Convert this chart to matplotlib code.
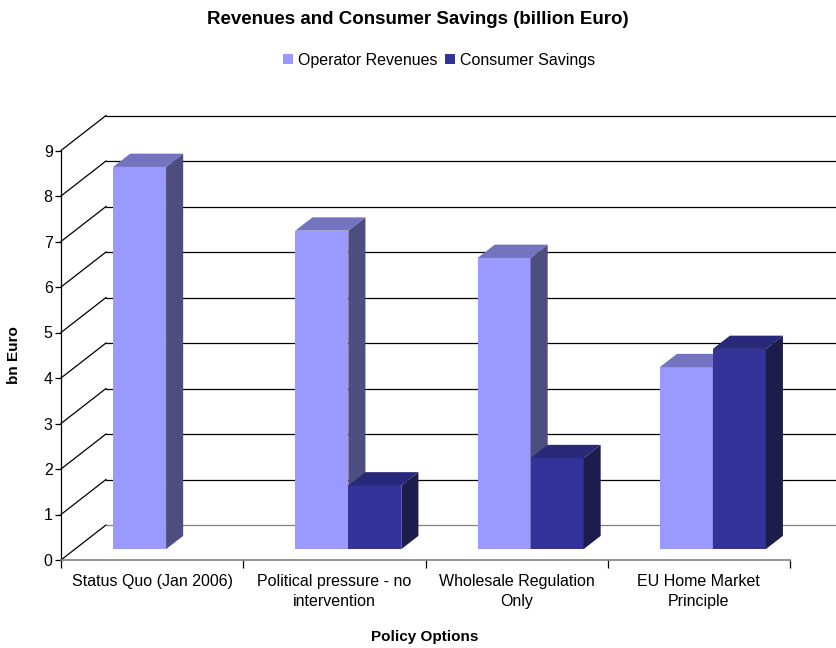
import matplotlib
matplotlib.use("Agg")
import matplotlib.pyplot as plt
from matplotlib.patches import Polygon, Patch

plt.rcParams['font.family'] = ['Liberation Sans', 'DejaVu Sans']

categories = ["Status Quo (Jan 2006)", "Political pressure - no\nintervention",
              "Wholesale Regulation\nOnly", "EU Home Market\nPrinciple"]
operator_revenues = [8.4, 7.0, 6.4, 4.0]
consumer_savings = [0.0, 1.4, 2.0, 4.4]
yticks = list(range(10))

series = [
    ("Operator Revenues", operator_revenues, "#9999FF", "#7373C0", "#4D4D80"),
    ("Consumer Savings", consumer_savings, "#333399", "#29297A", "#1C1C4D"),
]

# pseudo 3d geometry (pixels -> data units)
CAT_PX = (790 - 61) / 4
VAL_PX = (560 - 150.5) / 9
DX = 45 / CAT_PX
DY = 35 / VAL_PX
BAR_W = 53 / CAT_PX
D_FRONT, D_BACK = 0.31, 0.69

fig = plt.figure(figsize=(8.36, 6.48), dpi=100)
ax = fig.add_axes([61 / 836, 88 / 648, 729 / 836, 409.5 / 648])
ncat = len(categories)
ax.set_xlim(0, ncat)
ax.set_ylim(0, 9)

# back wall + left wall gridlines
for v in yticks:
    col = "#808080" if v == 0 else "black"
    ax.plot([0, DX], [v, v + DY], color="black", lw=0.9, clip_on=False, zorder=1)
    ax.plot([DX, ncat + DX], [v + DY, v + DY], color=col, lw=0.9,
            clip_on=False, zorder=1)

# bars
for k, (name, vals, front, top, side) in enumerate(series):
    for i, v in enumerate(vals):
        if v <= 0:
            continue
        x0 = i + 0.5 - BAR_W + k * BAR_W + D_FRONT * DX
        x1 = x0 + BAR_W
        y0 = D_FRONT * DY
        y1 = y0 + v
        ddx = (D_BACK - D_FRONT) * DX
        ddy = (D_BACK - D_FRONT) * DY
        ax.add_patch(Polygon([[x0, y0], [x1, y0], [x1, y1], [x0, y1]],
                             closed=True, fc=front, ec="none", zorder=3, clip_on=False))
        ax.add_patch(Polygon([[x1, y0], [x1 + ddx, y0 + ddy], [x1 + ddx, y1 + ddy], [x1, y1]],
                             closed=True, fc=side, ec="none", zorder=3, clip_on=False))
        ax.add_patch(Polygon([[x0, y1], [x1, y1], [x1 + ddx, y1 + ddy], [x0 + ddx, y1 + ddy]],
                             closed=True, fc=top, ec="none", zorder=3, clip_on=False))

for s in ["top", "right"]:
    ax.spines[s].set_visible(False)
ax.spines["left"].set_color("black")
ax.spines["left"].set_linewidth(0.9)
ax.spines["bottom"].set_color("#808080")
ax.spines["bottom"].set_linewidth(1.2)

ax.set_yticks(yticks)
ax.set_yticklabels([str(t) for t in yticks], fontsize=11.5)
ax.tick_params(axis="y", direction="out", length=4, width=0.9, pad=2)
ax.set_xticks(range(ncat + 1))
ax.set_xticklabels([])
ax.tick_params(axis="x", which="major", direction="out", length=6, width=0.9, color="black")
ax.set_xticks([i + 0.5 for i in range(ncat)], minor=True)
ax.set_xticklabels(categories, minor=True, fontsize=11.5, linespacing=1.4)
ax.tick_params(axis="x", which="minor", length=0, pad=10)
ax.patch.set_visible(False)

fig.text(0.4994, 1 - 19 / 648, "Revenues and Consumer Savings (billion Euro)",
         ha="center", va="center", fontsize=13.5, fontweight="bold")
fig.text(14 / 836, 1 - 355 / 648, "bn Euro", rotation=90, ha="center", va="center",
         fontsize=11, fontweight="bold")
fig.text(425 / 836, 1 - 637 / 648, "Policy Options", ha="center", va="center",
         fontsize=11, fontweight="bold")

handles = [Patch(fc=s[2], ec="none", label=s[0]) for s in series]
fig.legend(handles=handles, loc="center", bbox_to_anchor=(439 / 836, 1 - 60 / 648),
           ncol=2, frameon=False, fontsize=11.5, handlelength=0.6, handleheight=0.6,
           handletextpad=0.3, columnspacing=0.5)

fig.savefig("out.png", dpi=100)
